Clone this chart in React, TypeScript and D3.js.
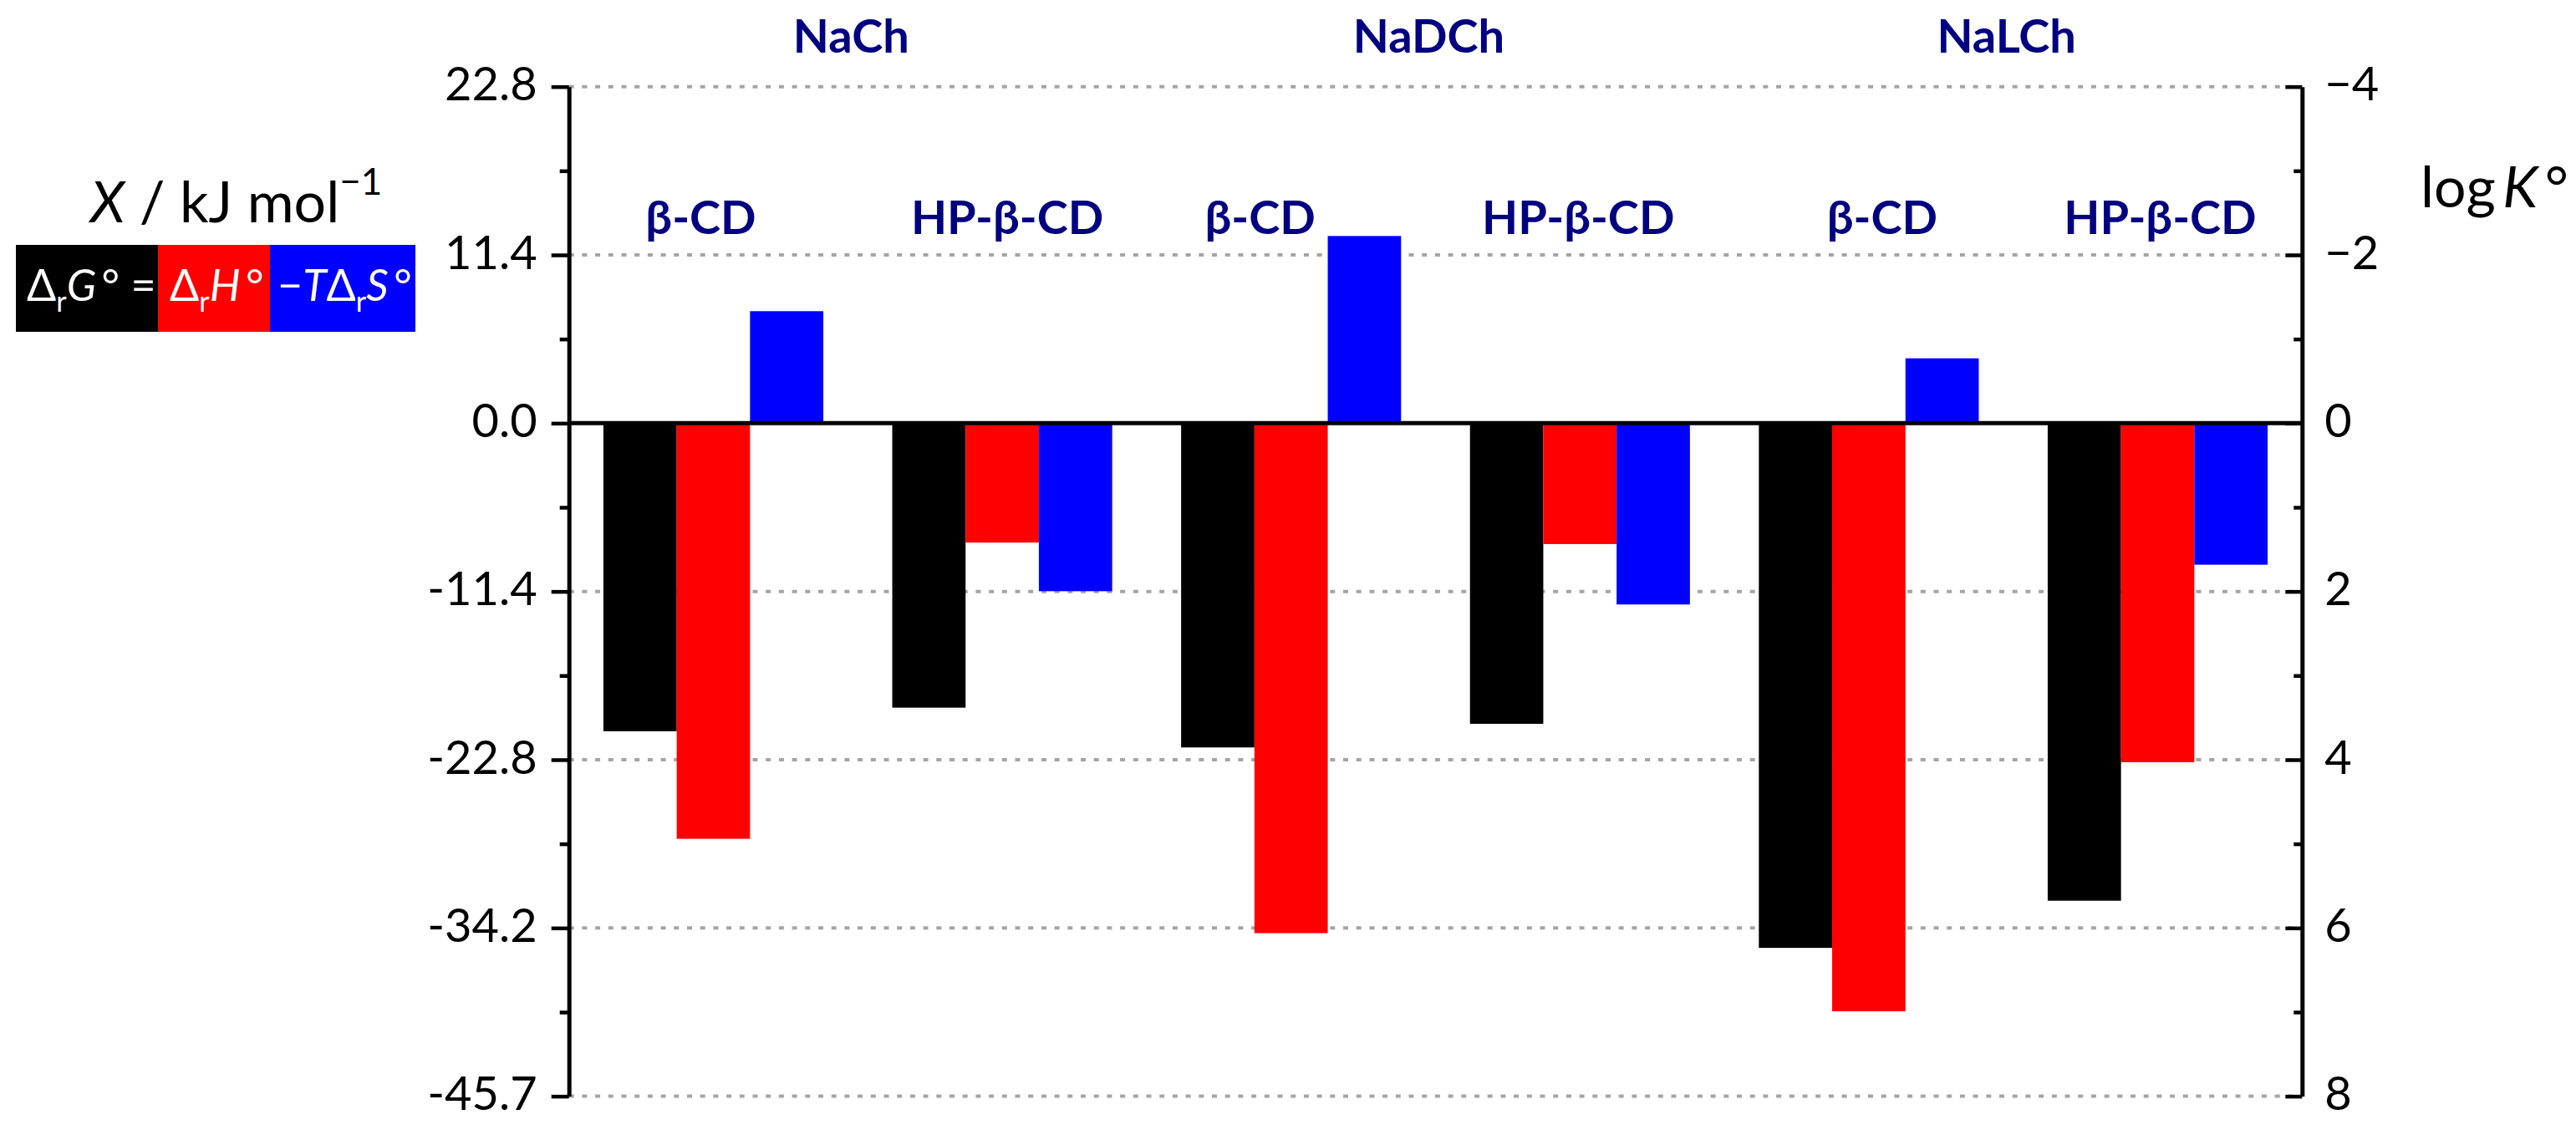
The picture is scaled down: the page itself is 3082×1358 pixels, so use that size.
import { useEffect, useRef } from 'react';
import * as d3 from 'd3';

// Gibbs energy split for the bile salt / cyclodextrin complexes
const hosts = ['β-CD', 'HP-β-CD', 'β-CD', 'HP-β-CD', 'β-CD', 'HP-β-CD'];
const guests = ['NaCh', 'NaDCh', 'NaLCh'];
const seriesKeys = ['G', 'H', 'S'];
const dG = [-20.9, -19.3, -22.0, -20.4, -35.6, -32.4];
const dH = [-28.2, -8.1, -34.6, -8.2, -39.9, -23.0];
const mTdS = [7.6, -11.4, 12.7, -12.3, 4.4, -9.6];

// right axis (log K) ticks and matching left axis labels (kJ/mol)
const logTicks = [-4, -2, 0, 2, 4, 6, 8];
const logMinor = [-3, -1, 1, 3, 5, 7];
const leftTickLabels = ['22.8', '11.4', '0.0', '-11.4', '-22.8', '-34.2', '-45.7'];
const rightTickLabels = ['\u22124', '\u22122', '0', '2', '4', '6', '8'];

const RTLN10 = 5.708; // kJ/mol at 298.15 K
const W = 3082;
const H = 1358;
const FONT = "Lato, 'Open Sans', sans-serif";
const colors: Record<string, string> = { G: '#000000', H: '#ff0000', S: '#0000ff' };
const navy = '#000080';

// small manual nudges of the host labels, as placed in the original figure
const hostNudge = [-15, 6, -37, -2, 16, 3];

export default function App() {
  const svgRef = useRef<SVGSVGElement>(null);

  useEffect(() => {
    document.body.style.margin = '0';
    if (!svgRef.current) return;
    const svg = d3.select(svgRef.current);
    svg.selectAll('*').remove();

    const left = 680.7;
    const right = 2754.3;
    const top = 103.7;
    const bottom = 1311.6;

    const x0 = d3.scaleBand<number>().domain(d3.range(hosts.length)).range([left, right]);
    const x1 = d3
      .scaleBand<string>()
      .domain(seriesKeys)
      .range([0, x0.bandwidth()])
      .paddingOuter(0.47);
    const yLog = d3.scaleLinear().domain([-4, 8]).range([top, bottom]);
    const yX = d3
      .scaleLinear()
      .domain([4 * RTLN10, -8 * RTLN10])
      .range([top, bottom]);

    const rows = hosts.map((h, i) => ({ i, G: dG[i], H: dH[i], S: mTdS[i] }));

    // dotted grid
    svg
      .append('g')
      .selectAll('line')
      .data(logTicks.filter((t) => t !== 0))
      .enter()
      .append('line')
      .attr('x1', left)
      .attr('x2', right)
      .attr('y1', (d) => yLog(d))
      .attr('y2', (d) => yLog(d))
      .attr('stroke', '#a5a5a5')
      .attr('stroke-width', 4)
      .attr('stroke-dasharray', '6 9.7');

    // bars
    const bars = svg.append('g');
    rows.forEach((r) => {
      seriesKeys.forEach((k) => {
        const v = (r as any)[k] as number;
        bars
          .append('rect')
          .attr('x', (x0(r.i) ?? 0) + (x1(k) ?? 0))
          .attr('y', Math.min(yX(v), yX(0)))
          .attr('width', x1.bandwidth())
          .attr('height', Math.abs(yX(v) - yX(0)))
          .attr('fill', colors[k]);
      });
    });

    // zero line
    svg
      .append('line')
      .attr('x1', left)
      .attr('x2', right)
      .attr('y1', yX(0))
      .attr('y2', yX(0))
      .attr('stroke', '#000')
      .attr('stroke-width', 5);

    const styleAxis = (g: d3.Selection<SVGGElement, unknown, null, undefined>) => {
      g.select('.domain').attr('stroke', '#000').attr('stroke-width', 5);
      g.selectAll('.tick line').attr('stroke', '#000').attr('stroke-width', 4.5);
      g.selectAll('.tick text')
        .attr('fill', '#000')
        .style('font-family', FONT)
        .style('font-size', '56px')
        .attr('dy', '0.29em');
    };

    // left axis
    const gl = svg
      .append('g')
      .attr('transform', `translate(${left},0)`)
      .call(
        d3
          .axisLeft(yLog)
          .tickValues(logTicks)
          .tickFormat((_, i) => leftTickLabels[i])
          .tickSizeInner(21)
          .tickSizeOuter(0)
          .tickPadding(17)
      );
    styleAxis(gl);
    const glm = svg
      .append('g')
      .attr('transform', `translate(${left},0)`)
      .call(d3.axisLeft(yLog).tickValues(logMinor).tickFormat(() => '').tickSize(11));
    glm.select('.domain').remove();
    glm.selectAll('.tick line').attr('stroke', '#000').attr('stroke-width', 4.5);

    // right axis, ticks pointing inwards
    const gr = svg
      .append('g')
      .attr('transform', `translate(${right},0)`)
      .call(
        d3
          .axisRight(yLog)
          .tickValues(logTicks)
          .tickFormat((_, i) => rightTickLabels[i])
          .tickSizeInner(-20)
          .tickSizeOuter(0)
          .tickPadding(27)
      );
    styleAxis(gr);
    const grm = svg
      .append('g')
      .attr('transform', `translate(${right},0)`)
      .call(d3.axisRight(yLog).tickValues(logMinor).tickFormat(() => '').tickSize(-10));
    grm.select('.domain').remove();
    grm.selectAll('.tick line').attr('stroke', '#000').attr('stroke-width', 4.5);

    // guest labels on top, host labels per group
    svg
      .append('g')
      .selectAll('text')
      .data(guests)
      .enter()
      .append('text')
      .attr('x', (_, i) => (x0(2 * i + 1) ?? 0) - 8)
      .attr('y', 63)
      .attr('text-anchor', 'middle')
      .attr('fill', navy)
      .style('font-family', FONT)
      .style('font-weight', 700)
      .style('font-size', '56px')
      .text((d) => d);

    svg
      .append('g')
      .selectAll('text')
      .data(hosts)
      .enter()
      .append('text')
      .attr('x', (_, i) => (x0(i) ?? 0) + x0.bandwidth() / 2 + hostNudge[i])
      .attr('y', 280)
      .attr('text-anchor', 'middle')
      .attr('fill', navy)
      .style('font-family', FONT)
      .style('font-weight', 700)
      .style('font-size', '56px')
      .text((d) => d);

    // left title: X / kJ mol^-1
    const t1 = svg
      .append('text')
      .attr('x', 108)
      .attr('y', 266)
      .style('font-family', FONT)
      .style('font-size', '68px')
      .attr('fill', '#000');
    t1.append('tspan').style('font-style', 'italic').text('X');
    t1.append('tspan').text(' / kJ mol');
    t1.append('tspan').attr('dy', -33).style('font-size', '44px').text('\u22121');

    // right title: log K°
    const t2 = svg
      .append('text')
      .attr('x', 2896)
      .attr('y', 248)
      .style('font-family', FONT)
      .style('font-size', '68px')
      .attr('fill', '#000');
    t2.append('tspan').text('log\u2009');
    t2.append('tspan').style('font-style', 'italic').text('K');
    t2.append('tspan').text('\u2009°');

    // legend strip: ΔrG° = ΔrH° −TΔrS°
    const legTop = 293;
    const legH = 104;
    const legBoxes = [
      { k: 'G', x: 19, w: 170 },
      { k: 'H', x: 189, w: 134 },
      { k: 'S', x: 323, w: 174 },
    ];
    const leg = svg.append('g');
    legBoxes.forEach((b) => {
      leg
        .append('rect')
        .attr('x', b.x)
        .attr('y', legTop)
        .attr('width', b.w)
        .attr('height', legH)
        .attr('fill', colors[b.k]);
    });
    const legText = (x: number, parts: [string, 'n' | 'i' | 's'][]) => {
      const t = leg
        .append('text')
        .attr('x', x)
        .attr('y', 360)
        .attr('fill', '#fff')
        .style('font-family', FONT)
        .style('font-size', '52px');
      let down = false;
      parts.forEach(([s, kind]) => {
        const sp = t.append('tspan').text(s);
        if (kind === 's') {
          sp.attr('dy', 13).style('font-size', '34px');
          down = true;
        } else {
          if (down) sp.attr('dy', -13);
          down = false;
          if (kind === 'i') sp.style('font-style', 'italic');
        }
      });
    };
    legText(32, [['Δ', 'n'], ['r', 's'], ['G', 'i'], ['\u2009° =', 'n']]);
    legText(203, [['Δ', 'n'], ['r', 's'], ['H', 'i'], ['\u2009°', 'n']]);
    legText(332, [['\u2212', 'n'], ['T', 'i'], ['Δ', 'n'], ['r', 's'], ['S', 'i'], ['\u2009°', 'n']]);
  }, []);

  return (
    <div style={{ position: 'absolute', left: 0, top: 0 }}>
      <svg ref={svgRef} width={W} height={H} style={{ display: 'block', background: '#fff' }} />
    </div>
  );
}
